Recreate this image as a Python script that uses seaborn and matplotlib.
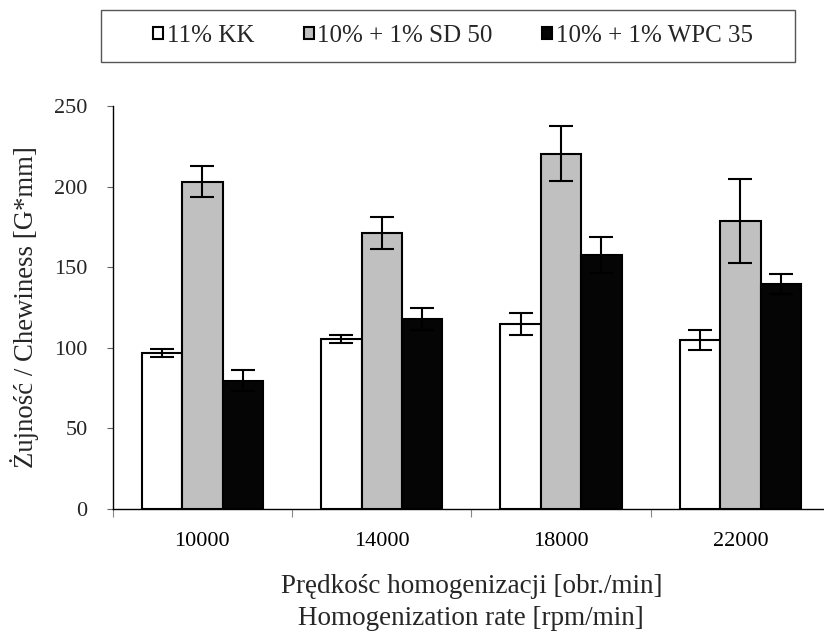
import matplotlib
matplotlib.use("Agg")
import matplotlib.pyplot as plt
from matplotlib.patches import Patch, Rectangle
from matplotlib.ticker import FixedLocator
import seaborn as sns
import pandas as pd

speeds = ["10000", "14000", "18000", "22000"]
series = ["11% KK", "10% + 1% SD 50", "10% + 1% WPC 35"]
kk = [96.9, 105.4, 114.7, 104.8]
kk_err = [2.3, 2.4, 6.7, 6.2]
sd = [203.0, 171.3, 220.5, 178.7]
sd_err = [9.6, 9.8, 17.0, 26.2]
wpc = [79.6, 117.8, 157.5, 139.5]
wpc_err = [6.4, 6.6, 11.0, 6.0]
colors = ["#FFFFFF", "#C0C0C0", "#050505"]

values = [kk, sd, wpc]
errors = [kk_err, sd_err, wpc_err]

rows = []
for s, vals in zip(series, values):
    for sp, v in zip(speeds, vals):
        rows.append({"speed": sp, "series": s, "value": v})
df = pd.DataFrame(rows)

sns.set_theme(style="white")
plt.rcParams["font.family"] = ["Liberation Serif", "DejaVu Serif"]
plt.rcParams["font.size"] = 16

fig = plt.figure(figsize=(8.24, 6.36), dpi=100)
W, H = 824, 636
ax = fig.add_axes([112.7 / W, 1 - 509 / H, (830 - 112.7) / W, (509 - 106) / H])

sns.barplot(data=df, x="speed", y="value", hue="series", order=speeds,
            hue_order=series, palette=colors, edgecolor="black",
            linewidth=1.5, width=0.675, errorbar=None, ax=ax, legend=False,
            saturation=1)

for cont, errs in zip(ax.containers, errors):
    xs = [p.get_x() + p.get_width() / 2 for p in cont.patches]
    hs = [p.get_height() for p in cont.patches]
    ax.errorbar(xs, hs, yerr=errs, fmt="none", ecolor="black",
                elinewidth=1.5, capsize=8.5, capthick=1.5, zorder=5)

ax.set_xlim(-0.5, 3.5)
ax.set_ylim(0, 250)
ax.set_yticks([0, 50, 100, 150, 200, 250])
ax.xaxis.set_minor_locator(FixedLocator([-0.5, 0.5, 1.5, 2.5, 3.5]))
ax.tick_params(axis="x", which="major", length=0, pad=16.5, labelsize=16,
               colors="black")
ax.tick_params(axis="x", which="minor", length=5.5, width=0.8,
               color="#888888", direction="out", bottom=True)
ax.tick_params(axis="y", which="major", length=4.3, width=0.8,
               color="#666666", direction="out", pad=13.7, labelsize=16,
               left=True)

for sp in ["top", "right"]:
    ax.spines[sp].set_visible(False)
for sp in ["left", "bottom"]:
    ax.spines[sp].set_color("black")
    ax.spines[sp].set_linewidth(1.0)

ax.set_xlabel("Prędkośc homogenizacji [obr./min]\nHomogenization rate [rpm/min]",
              fontsize=19.5, linespacing=1.33, va="top")
ax.xaxis.set_label_coords(0.5, -0.1625)
ax.set_ylabel("Żujność / Chewiness [G*mm]", fontsize=19.3)
ax.yaxis.set_label_coords(-0.103, 0.5)

handles = [Patch(facecolor=c, edgecolor="black", linewidth=1.5) for c in colors]
fig.legend(handles, series, loc="center", bbox_to_anchor=(453 / W, 1 - 36 / H),
           ncol=3, frameon=False, fontsize=18, handlelength=0.4,
           handleheight=0.4, handletextpad=0.15, columnspacing=1.98)
fig.patches.append(Rectangle((101 / W, 1 - 62 / H), 694 / W, 52 / H,
                             transform=fig.transFigure, fill=False,
                             edgecolor="#555555", linewidth=1.0))

fig.savefig("out.png", dpi=100)
